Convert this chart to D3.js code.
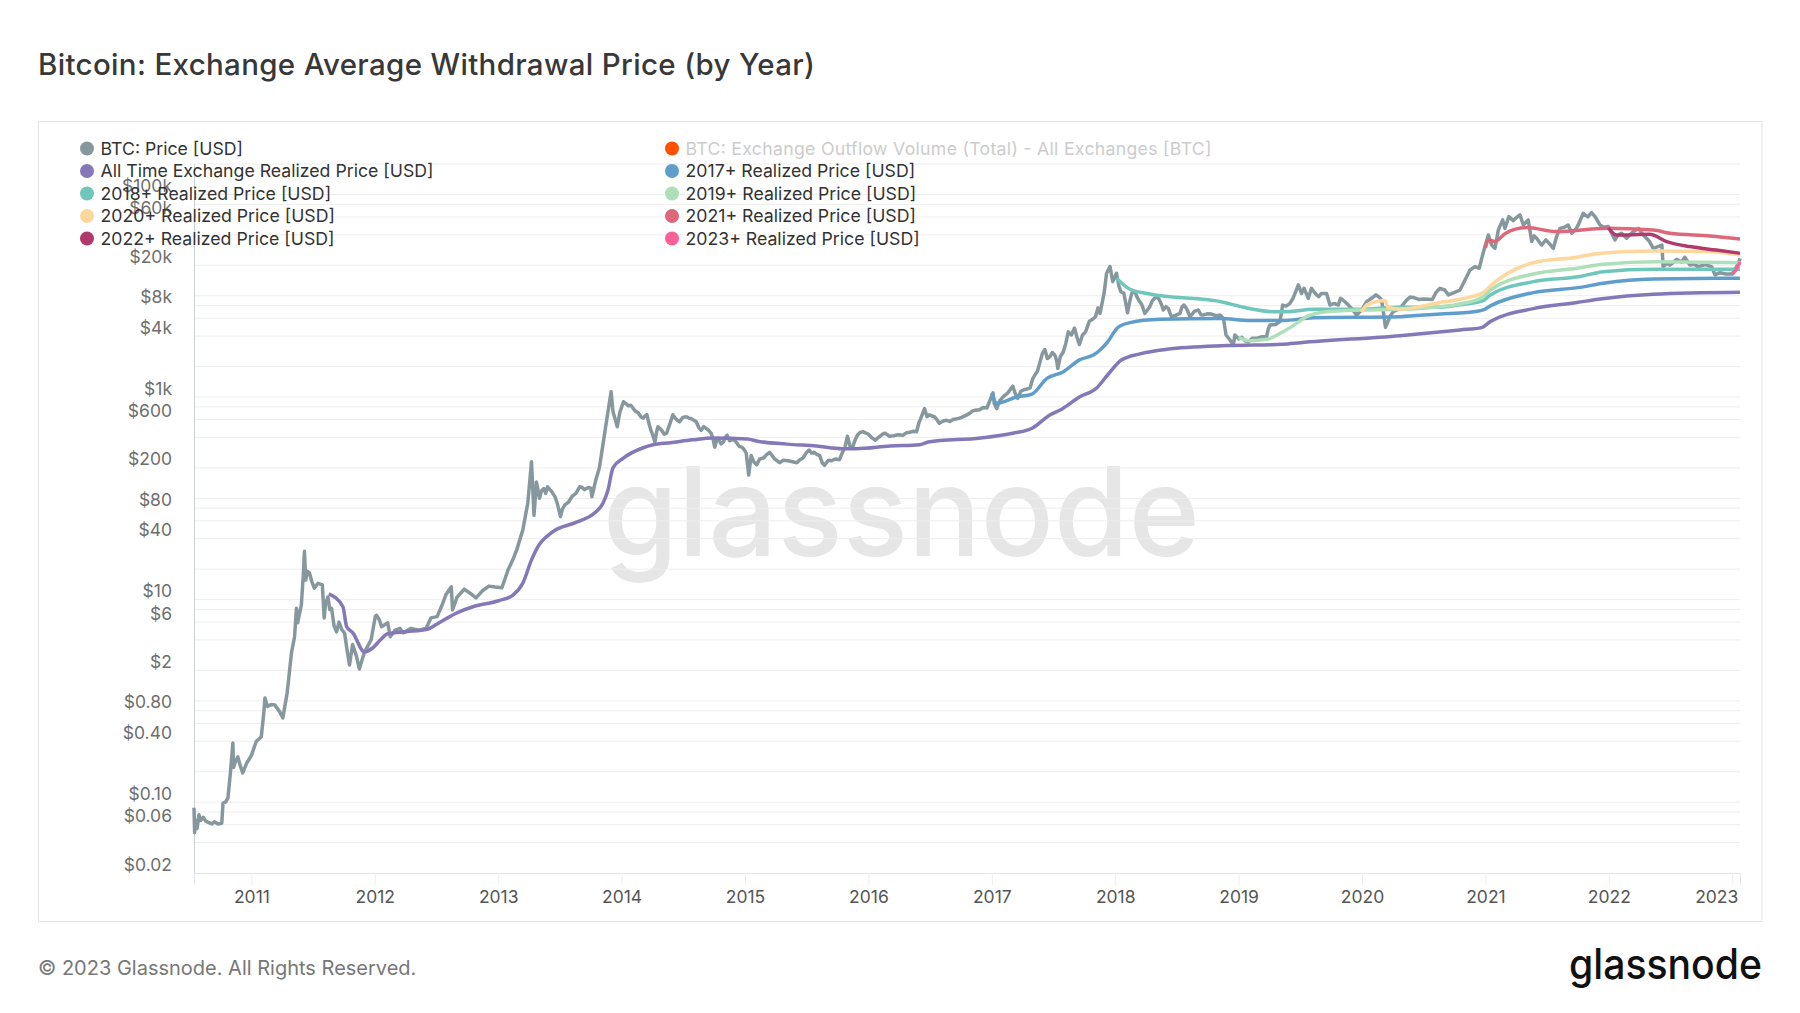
<!DOCTYPE html>
<html>
<head>
<meta charset="utf-8">
<script src="https://cdn.jsdelivr.net/npm/d3@7"></script>
<style>
  body { margin: 0; background: #fff; }
  svg { display: block; font-family: Inter, sans-serif; }
</style>
</head>
<body>
<svg id="chart" width="1800" height="1013"></svg>
<script>
// all series are [decimal year, USD]

const btcPrice = [
  [2010.535,.088],[2010.54,.05],[2010.55,.066],[2010.56,.055],[2010.575,.075],[2010.59,.066],[2010.61,.071],[2010.63,.065],[2010.655,.063],[2010.68,.061],[2010.7,.064],[2010.73,.061],[2010.76,.062],
  [2010.77,.098],[2010.79,.1],[2010.81,.11],[2010.83,.195],[2010.85,.385],[2010.855,.22],[2010.87,.25],[2010.89,.28],[2010.91,.23],[2010.93,.195],[2010.96,.24],[2011,.29],
  [2011.04,.4],[2011.08,.44],[2011.1,.75],[2011.11,1.07],[2011.13,.88],[2011.16,.92],[2011.19,.91],[2011.23,.78],[2011.255,.68],[2011.29,1.2],
  [2011.325,3],[2011.35,4.3],[2011.365,8.2],[2011.375,5.9],[2011.405,8.9],[2011.42,17],[2011.43,30],[2011.44,15.6],[2011.455,19],[2011.47,18.4],[2011.49,15],[2011.51,13],[2011.54,14.5],[2011.575,14],
  [2011.59,6.6],[2011.6,9],[2011.62,10.6],[2011.635,8],[2011.65,8.2],[2011.67,5.5],[2011.69,4.8],[2011.71,6],[2011.735,5],[2011.755,4.7],[2011.775,3.2],[2011.795,2.26],[2011.82,3.6],[2011.85,2.8],[2011.875,2.07],[2011.915,3],[2011.97,4],
  [2012.005,6.9],[2012.015,7],[2012.035,6.4],[2012.055,5.4],[2012.105,5.9],[2012.125,4.3],[2012.165,5],[2012.205,5.2],[2012.23,4.7],[2012.295,5.2],[2012.355,5],[2012.415,5.2],[2012.455,6.6],[2012.505,6.8],
  [2012.545,8.8],[2012.575,11.1],[2012.62,13.4],[2012.63,7.9],[2012.665,10.5],[2012.725,12.7],[2012.775,11.5],[2012.82,10.4],[2012.875,12.3],[2012.925,13.6],
  [2012.975,13.3],[2013.03,13.1],[2013.08,19.6],[2013.12,25],[2013.15,31],[2013.2,49],[2013.24,90],[2013.27,230],[2013.29,68],[2013.31,145],
  [2013.335,100],[2013.35,118],[2013.37,125],[2013.385,112],[2013.4,130],[2013.43,118],[2013.46,104],[2013.48,88],[2013.505,66],[2013.52,78],
  [2013.54,86],[2013.57,92],[2013.6,105],[2013.63,112],[2013.66,130],[2013.68,128],[2013.7,122],[2013.73,128],[2013.75,126],[2013.76,104],
  [2013.79,150],[2013.82,200],[2013.855,380],[2013.88,600],[2013.915,1130],[2013.93,720],[2013.965,510],[2013.985,700],[2014.015,900],[2014.035,860],
  [2014.055,820],[2014.075,830],[2014.095,770],[2014.115,720],[2014.135,700],[2014.155,640],[2014.175,620],[2014.19,650],[2014.205,670],[2014.22,560],
  [2014.235,480],[2014.25,430],[2014.27,360],[2014.285,460],[2014.295,510],[2014.31,490],[2014.325,470],[2014.345,430],[2014.365,440],[2014.38,500],
  [2014.395,560],[2014.415,670],[2014.43,630],[2014.445,600],[2014.47,570],[2014.495,630],[2014.525,640],[2014.545,620],[2014.565,610],[2014.585,590],
  [2014.605,570],[2014.625,500],[2014.645,470],[2014.665,510],[2014.685,490],[2014.705,470],[2014.725,440],[2014.74,390],[2014.755,320],[2014.77,370],
  [2014.785,390],[2014.805,345],[2014.825,360],[2014.84,400],[2014.855,420],[2014.875,370],[2014.895,380],[2014.915,375],[2014.935,350],[2014.955,325],
  [2014.975,320],[2014.995,300],[2015.01,280],[2015.03,170],[2015.05,265],[2015.07,230],[2015.095,215],[2015.12,245],[2015.15,250],[2015.175,270],
  [2015.2,285],[2015.24,245],[2015.28,225],[2015.31,238],[2015.35,235],[2015.385,230],[2015.42,225],[2015.445,240],[2015.47,250],[2015.495,280],
  [2015.52,300],[2015.54,280],[2015.56,285],[2015.585,270],[2015.605,265],[2015.625,225],[2015.645,212],[2015.675,238],[2015.7,235],[2015.735,245],
  [2015.765,240],[2015.79,285],[2015.81,320],[2015.83,410],[2015.85,330],[2015.87,315],[2015.89,370],[2015.91,420],[2015.93,445],[2015.955,455],
  [2015.98,440],[2016,430],[2016.03,395],[2016.055,375],[2016.075,395],[2016.095,410],[2016.115,430],[2016.135,440],[2016.17,410],[2016.205,415],
  [2016.24,425],[2016.28,420],[2016.31,445],[2016.335,450],[2016.365,460],[2016.39,455],[2016.41,560],[2016.425,620],[2016.455,770],[2016.475,640],
  [2016.495,670],[2016.515,650],[2016.535,640],[2016.555,600],[2016.575,550],[2016.605,580],[2016.635,590],[2016.66,575],[2016.685,600],[2016.72,610],
  [2016.755,630],[2016.79,660],[2016.82,690],[2016.845,730],[2016.865,740],[2016.9,750],[2016.93,790],[2016.96,780],[2017.01,1100],[2017.02,860],
  [2017.04,770],[2017.065,920],[2017.09,1000],[2017.11,1050],[2017.13,1100],[2017.15,1190],[2017.17,1280],[2017.19,1080],[2017.21,970],[2017.235,1140],
  [2017.26,1180],[2017.285,1200],[2017.31,1230],[2017.33,1500],[2017.35,1660],[2017.37,1800],[2017.39,2200],[2017.41,2700],[2017.43,2950],[2017.45,2400],
  [2017.47,2500],[2017.49,2750],[2017.51,2600],[2017.525,2300],[2017.535,1920],[2017.555,2500],[2017.58,2800],[2017.6,3400],[2017.62,4400],[2017.645,4100],
  [2017.67,4800],[2017.69,3900],[2017.71,3300],[2017.735,4100],[2017.76,4400],[2017.79,5600],[2017.82,5900],[2017.84,6200],[2017.86,7600],[2017.877,6700],
  [2017.91,10600],[2017.93,16700],[2017.958,19400],[2017.98,13800],[2018.01,16700],[2018.03,12500],[2018.045,11000],[2018.07,10600],[2018.085,8500],[2018.1,6800],
  [2018.12,9000],[2018.134,10600],[2018.16,11000],[2018.175,9800],[2018.19,9100],[2018.215,8200],[2018.24,6700],[2018.26,7200],[2018.28,7800],[2018.3,8900],
  [2018.32,9440],[2018.34,9800],[2018.358,9100],[2018.375,8200],[2018.39,7240],[2018.41,7800],[2018.43,7500],[2018.445,6700],[2018.457,6200],[2018.49,6400],
  [2018.525,6700],[2018.54,7700],[2018.557,8100],[2018.58,7400],[2018.606,6200],[2018.64,7000],[2018.674,7240],[2018.695,6500],[2018.714,6470],[2018.75,6650],
  [2018.78,6600],[2018.82,6350],[2018.85,6470],[2018.877,5980],[2018.898,4100],[2018.93,3660],[2018.957,3270],[2018.97,4100],[2019,3750],[2019.025,3900],
  [2019.05,3600],[2019.08,3520],[2019.11,3800],[2019.146,3800],[2019.19,3950],[2019.227,3950],[2019.24,4700],[2019.254,5150],[2019.3,5200],[2019.335,5560],
  [2019.357,8100],[2019.385,7900],[2019.416,8430],[2019.44,9400],[2019.457,10560],[2019.484,12800],[2019.51,10560],[2019.53,11850],[2019.565,9440],[2019.59,11850],
  [2019.61,11000],[2019.632,10200],[2019.65,9800],[2019.672,10560],[2019.713,10560],[2019.74,8100],[2019.775,8400],[2019.808,8100],[2019.826,9440],[2019.85,9000],
  [2019.875,8430],[2019.915,7500],[2019.956,6470],[2019.997,7240],[2020.037,8750],[2020.075,9400],[2020.113,10200],[2020.135,9800],[2020.159,9100],[2020.19,4890],
  [2020.226,6200],[2020.253,6970],[2020.307,7500],[2020.36,9000],[2020.39,9700],[2020.42,9600],[2020.46,9200],[2020.5,9300],[2020.57,9200],[2020.6,10800],
  [2020.632,11850],[2020.67,11400],[2020.7,10200],[2020.74,10700],[2020.794,11400],[2020.835,14300],[2020.875,18000],[2020.915,19400],[2020.95,18700],[2020.97,23400],
  [2020.996,30600],[2021.024,39800],[2021.05,31700],[2021.077,29400],[2021.105,44700],[2021.14,56100],[2021.158,46300],[2021.19,60400],[2021.226,55200],[2021.25,59000],
  [2021.28,62800],[2021.307,50000],[2021.347,56100],[2021.375,34300],[2021.395,39000],[2021.415,37000],[2021.455,31700],[2021.49,35600],[2021.52,32500],[2021.55,29400],
  [2021.577,38400],[2021.604,46300],[2021.64,47500],[2021.67,50000],[2021.7,41400],[2021.73,45000],[2021.752,50000],[2021.793,65200],[2021.83,60000],[2021.86,66200],
  [2021.89,60000],[2021.928,50000],[2021.96,47500],[2021.996,48200],[2022.05,35600],[2022.075,40000],[2022.103,41400],[2022.144,37000],[2022.17,40000],[2022.2,43000],
  [2022.24,46300],[2022.28,39800],[2022.33,34300],[2022.36,29400],[2022.43,31700],[2022.44,19400],[2022.47,21000],[2022.495,20100],[2022.55,22900],[2022.59,21500],
  [2022.616,24000],[2022.657,20100],[2022.69,20500],[2022.725,19400],[2022.78,20300],[2022.833,19400],[2022.86,16100],[2022.9,16900],[2022.95,16400],[2023,16400],
  [2023.05,20900],[2023.063,23400]
];
const allTimeRealized = [
  [2011.627,11.4],[2011.742,8.5],[2011.772,5.4],[2011.822,4.7],[2011.917,3.04],[2011.982,3.33],[2012.045,4],[2012.105,4.6],[2012.255,4.83],[2012.425,5.1],
  [2012.505,5.75],[2012.665,7.4],[2012.795,8.5],[2013.01,9.8],[2013.12,11.1],[2013.2,14.6],[2013.27,24.7],[2013.32,33],[2013.43,45.6],[2013.64,58.5],
  [2013.78,71.6],[2013.85,90],[2013.89,121],[2013.93,200],[2014.015,250],[2014.175,316],[2014.255,338],[2014.395,354],[2014.575,378],[2014.735,395],
  [2015.02,385],[2015.1,367],[2015.34,343],[2015.58,328],[2015.79,309],[2015.9,309],[2016.175,328],[2016.415,338],[2016.485,360],[2016.91,395],
  [2017.17,440],[2017.33,495],[2017.47,665],[2017.57,763],[2017.71,1000],[2017.85,1230],[2017.94,1660],[2018.05,2320],[2018.2,2670],[2018.417,2960],
  [2018.9,3220],[2019.36,3320],[2019.5,3440],[2020.307,4040],[2020.794,4600],[2020.97,4850],[2021.04,5560],[2021.388,7460],[2021.74,8570],[2021.93,9300],
  [2022.36,10360],[2023.063,10840]
];
const realized2017 = [
  [2017,1100],[2017.04,870],[2017.2,1000],[2017.325,1070],[2017.447,1530],[2017.577,1770],[2017.71,2330],[2017.83,2630],[2017.877,2920],[2017.93,3400],
  [2018.025,4890],[2018.12,5430],[2018.36,5860],[2018.85,5980],[2019.09,5690],[2019.36,5690],[2019.605,6080],[2020.307,6220],[2020.632,6620],[2020.85,6830],
  [2020.983,7250],[2021.04,7950],[2021.388,10750],[2021.766,12100],[2021.955,13300],[2022.36,14660],[2023.063,14900]
];
const realized2018 = [
  [2018.01,14900],[2018.12,11600],[2018.28,10400],[2018.876,8630],[2019.04,7700],[2019.28,6970],[2019.39,6970],[2019.605,7350],[2019.98,7350],[2020.307,7700],
  [2020.632,7700],[2020.794,8130],[2020.983,8960],[2021.04,10200],[2021.388,13800],[2021.766,15500],[2021.955,17300],[2022.36,18300],[2023.063,18300]
];
const realized2019 = [
  [2019,3890],[2019.09,3600],[2019.23,3720],[2019.36,4420],[2019.47,5340],[2019.55,6220],[2019.71,6970],[2019.98,7240],[2020.307,7350],[2020.632,7800],
  [2020.794,8300],[2020.983,9800],[2021.04,11400],[2021.388,16400],[2021.74,18700],[2021.955,20500],[2022.387,21700],[2023.063,21200]
];
const realized2020 = [
  [2019.997,6870],[2020.037,8100],[2020.12,8750],[2020.185,8960],[2020.21,7700],[2020.307,7400],[2020.632,8570],[2020.794,9250],[2020.983,10750],[2021.04,12500],
  [2021.388,21200],[2021.74,24000],[2021.93,26300],[2022.36,27700],[2022.79,27300],[2023.063,25300]
];
const realized2021 = [
  [2021,29700],[2021.024,35600],[2021.077,34300],[2021.158,41000],[2021.334,47100],[2021.577,43000],[2021.98,46300],[2022.36,44700],[2022.495,41400],[2022.82,39000],[2023.063,36400]
];
const realized2022 = [
  [2021.996,47000],[2022.063,39800],[2022.33,40400],[2022.468,34300],[2022.657,30600],[2022.87,28300],[2023.063,26300]
];
const realized2023 = [
  [2023,16400],[2023.03,18000],[2023.063,21500]
];

const legendNames = [
  "BTC: Price [USD]", "BTC: Exchange Outflow Volume (Total) - All Exchanges [BTC]",
  "All Time Exchange Realized Price [USD]", "2017+ Realized Price [USD]",
  "2018+ Realized Price [USD]", "2019+ Realized Price [USD]",
  "2020+ Realized Price [USD]", "2021+ Realized Price [USD]",
  "2022+ Realized Price [USD]", "2023+ Realized Price [USD]"
];
const legendColors = ["#86989e", "#ff5000", "#8478b8", "#5f9ecb", "#6fc7bc", "#addfb9", "#fdd79b", "#dd687b", "#b13a6c", "#fb6098"];

const yTickValues = [100000, 60000, 20000, 8000, 4000, 1000, 600, 200, 80, 40, 10, 6, 2, .8, .4, .1, .06, .02];
const yTickLabels = ["$100k", "$60k", "$20k", "$8k", "$4k", "$1k", "$600", "$200", "$80", "$40", "$10", "$6", "$2", "$0.80", "$0.40", "$0.10", "$0.06", "$0.02"];
const gridValues = [200000, 100000, 80000, 60000, 40000, 20000, 10000, 8000, 6000, 4000, 2000, 1000, 800, 600, 400, 200, 100, 80, 60, 40, 20, 10, 8, 6, 4, 2, 1, .8, .6, .4, .2, .1, .08, .06, .04];
const xTickYears = [2011, 2012, 2013, 2014, 2015, 2016, 2017, 2018, 2019, 2020, 2021, 2022, 2023];

const lines = [
  { data: btcPrice, color: legendColors[0], curve: d3.curveLinear },
  { data: allTimeRealized, color: legendColors[2] },
  { data: realized2017, color: legendColors[3] },
  { data: realized2018, color: legendColors[4] },
  { data: realized2019, color: legendColors[5] },
  { data: realized2020, color: legendColors[6] },
  { data: realized2021, color: legendColors[7] },
  { data: realized2022, color: legendColors[8] },
  { data: realized2023, color: legendColors[9] }
];

const svg = d3.select("#chart");

const x = d3.scaleLinear().domain([2010.535, 2023.063]).range([194, 1740]);
const y = d3.scaleLog().domain([.02, 200000]).range([873, 164]);

svg.append("text").attr("x", 38).attr("y", 74.5)
  .attr("font-size", 29.5).attr("font-weight", 500).attr("fill", "#383838")
  .attr("textLength", 777).attr("lengthAdjust", "spacing")
  .text("Bitcoin: Exchange Average Withdrawal Price (by Year)");

svg.append("rect").attr("x", 38.5).attr("y", 121.5).attr("width", 1723.5).attr("height", 800)
  .attr("fill", "#fff").attr("stroke", "#e2e4e5");

// watermark sits under the grid
svg.append("text").attr("x", 603).attr("y", 556)
  .attr("font-size", 124).attr("font-weight", 500).attr("fill", "#e6e6e6")
  .attr("textLength", 597).attr("lengthAdjust", "spacingAndGlyphs")
  .text("glassnode");

svg.append("g").selectAll("line").data(gridValues).enter().append("line")
  .attr("x1", 194).attr("x2", 1740)
  .attr("y1", d => y(d)).attr("y2", d => y(d))
  .attr("stroke", "#eeeeee");

const yAxis = svg.append("g").attr("transform", "translate(194,0)")
  .call(d3.axisLeft(y).tickValues(yTickValues).tickSize(0).tickPadding(22)
    .tickFormat((d, i) => yTickLabels[i]));
yAxis.select(".domain").attr("stroke", "#c9d1d5");
yAxis.selectAll("text").attr("font-size", 17.5).attr("font-family", "Inter, sans-serif").attr("fill", "#6e6e6e").attr("dy", -3);

const xAxis = svg.append("g").attr("transform", "translate(0,873)")
  .call(d3.axisBottom(x).tickValues(xTickYears).tickSize(12).tickPadding(5.5).tickFormat(d3.format("d")));
xAxis.select(".domain").attr("stroke", "#e2e4e5");
xAxis.selectAll("line").attr("stroke", "#eeeeee");
xAxis.selectAll("text").attr("font-size", 17.5).attr("font-family", "Inter, sans-serif").attr("fill", "#555");
xAxis.selectAll("text").filter(d => d == 2023).attr("dx", -16);

const line = d3.line().x(d => x(d[0])).y(d => y(d[1]));

svg.append("g").selectAll("path").data(lines).enter().append("path")
  .attr("fill", "none")
  .attr("stroke", d => d.color)
  .attr("stroke-width", 3.5)
  .attr("stroke-linejoin", "round")
  .attr("d", d => line.curve(d.curve || d3.curveMonotoneX)(d.data));

const legend = svg.append("g").selectAll("g").data(legendNames).enter().append("g")
  .attr("transform", (d, i) => "translate(" + (i % 2 ? 672 : 87) + "," + (148.5 + 22.5 * Math.floor(i / 2)) + ")");
legend.append("circle").attr("r", 7).attr("fill", (d, i) => legendColors[i]);
legend.append("text").attr("x", 13.5).attr("y", 6)
  .attr("font-size", 17.7).attr("fill", (d, i) => i == 1 ? "#cccccc" : "#333")
  .text(d => d);
legend.filter((d, i) => i == 1).select("text").attr("textLength", 526);

svg.append("text").attr("x", 38).attr("y", 975)
  .attr("font-size", 20).attr("fill", "#777")
  .text("© 2023 Glassnode. All Rights Reserved.");

svg.append("text").attr("x", 1569).attr("y", 979)
  .attr("font-size", 42).attr("font-weight", 500).attr("fill", "#111")
  .attr("textLength", 193).attr("lengthAdjust", "spacingAndGlyphs")
  .text("glassnode");
</script>
</body>
</html>
